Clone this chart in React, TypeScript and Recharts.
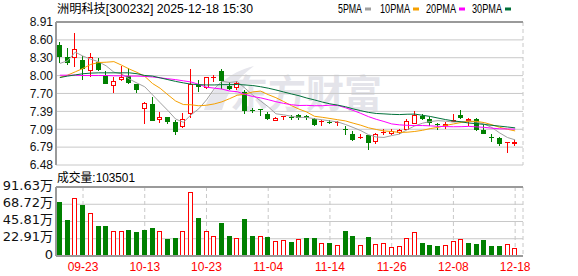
import React from 'react';
import {
  ComposedChart,
  Bar,
  Line,
  XAxis,
  YAxis,
  CartesianGrid,
  ReferenceLine,
} from 'recharts';

const dates = [
  '09-18', '09-19', '09-22', '09-23', '09-24', '09-25', '09-26', '09-29', '09-30', '10-09',
  '10-10', '10-13', '10-14', '10-15', '10-16', '10-17', '10-20', '10-21', '10-22', '10-23',
  '10-24', '10-27', '10-28', '10-29', '10-30', '10-31', '11-03', '11-04', '11-05', '11-06',
  '11-07', '11-10', '11-11', '11-12', '11-13', '11-14', '11-17', '11-18', '11-19', '11-20',
  '11-21', '11-24', '11-25', '11-26', '11-27', '11-28', '12-01', '12-02', '12-03', '12-04',
  '12-05', '12-08', '12-09', '12-10', '12-11', '12-12', '12-15', '12-16', '12-17', '12-18',
];

const opens = [
  8.515, 8.305, 8.29, 8.27, 8.08, 8.225, 8.015, 7.825, 7.925, 7.99,
  7.853, 7.435, 7.524, 7.254, 7.298, 7.208, 7.128, 7.355, 7.836, 7.796,
  7.955, 8.073, 7.82, 7.796, 7.72, 7.41, 7.425, 7.345, 7.236, 7.305,
  7.3, 7.327, 7.32, 7.259, 7.213, 7.21, 7.19, 7.1, 7.016, 6.955,
  6.987, 6.874, 7.03, 7.004, 7.032, 7.083, 7.185, 7.32, 7.259, 7.185,
  7.14, 7.214, 7.327, 7.23, 7.27, 7.083, 6.962, 6.942, 6.86, 6.835,
];
const highs = [
  8.56, 8.46, 8.72, 8.33, 8.385, 8.3, 8.07, 7.975, 8.163, 8.13,
  7.86, 7.545, 7.637, 7.383, 7.3, 7.24, 7.366, 8.105, 7.92, 7.975,
  8.0, 8.107, 7.893, 7.9, 7.75, 7.45, 7.428, 7.385, 7.3, 7.318,
  7.33, 7.355, 7.325, 7.287, 7.253, 7.253, 7.225, 7.14, 7.06, 7.016,
  6.99, 7.03, 7.1, 7.1, 7.1, 7.259, 7.4, 7.344, 7.3, 7.2,
  7.214, 7.344, 7.423, 7.287, 7.287, 7.157, 7.016, 6.96, 6.874, 6.9,
];
const lows = [
  8.204, 8.18, 8.147, 7.93, 7.98, 8.08, 7.85, 7.705, 7.9, 7.855,
  7.705, 7.186, 7.228, 7.196, 7.174, 6.987, 7.118, 7.28, 7.72, 7.763,
  7.892, 7.763, 7.757, 7.76, 7.344, 7.37, 7.321, 7.25, 7.225, 7.24,
  7.24, 7.253, 7.24, 7.14, 7.145, 7.17, 7.145, 6.99, 6.886, 6.92,
  6.733, 6.835, 6.987, 6.99, 7.016, 7.072, 7.174, 7.242, 7.14, 7.072,
  7.1, 7.214, 7.259, 7.14, 7.055, 7.004, 6.874, 6.8, 6.69, 6.8,
];
const closes = [
  8.305, 8.215, 8.441, 8.11, 8.316, 8.09, 7.86, 7.904, 7.966, 7.88,
  7.751, 7.542, 7.23, 7.293, 7.214, 7.035, 7.265, 7.864, 7.8, 7.966,
  7.972, 7.904, 7.768, 7.876, 7.4, 7.395, 7.415, 7.27, 7.28, 7.315,
  7.282, 7.287, 7.28, 7.157, 7.23, 7.2, 7.205, 7.07, 6.9, 6.96,
  6.857, 7.004, 7.035, 7.055, 7.083, 7.23, 7.327, 7.265, 7.197, 7.157,
  7.185, 7.253, 7.287, 7.259, 7.072, 7.016, 6.955, 6.835, 6.87, 6.874,
];

// volume in 万 (10k)
const volumes = [
  71.5, 47.8, 77.6, 67.5, 56.6, 40.0, 40.0, 33.0, 33.0, 34.7,
  32.1, 34.7, 37.3, 33.0, 22.9, 24.2, 33.0, 85.5, 50.5, 33.0,
  26.4, 43.9, 26.8, 23.8, 49.2, 26.8, 26.8, 25.5, 19.8, 21.1,
  19.0, 22.5, 24.2, 24.2, 17.2, 17.6, 14.6, 33.4, 26.8, 14.6,
  25.5, 15.9, 17.2, 11.9, 13.3, 23.8, 31.6, 17.6, 15.0, 13.7,
  14.6, 19.8, 22.5, 17.6, 16.3, 21.1, 13.7, 13.7, 15.9, 10.35,
];

const ma5 = [
  8.204, 8.249, 8.396, 8.328, 8.277, 8.234, 8.163, 8.056, 8.027, 7.94,
  7.872, 7.809, 7.674, 7.539, 7.406, 7.263, 7.207, 7.334, 7.436, 7.586,
  7.773, 7.901, 7.882, 7.897, 7.784, 7.669, 7.57, 7.47, 7.351, 7.334,
  7.31, 7.29, 7.29, 7.267, 7.25, 7.231, 7.214, 7.171, 7.12, 7.066,
  6.997, 6.958, 6.951, 6.982, 7.007, 7.081, 7.146, 7.192, 7.22, 7.235,
  7.226, 7.211, 7.216, 7.228, 7.211, 7.177, 7.118, 7.027, 6.95, 6.91,
];
const ma10 = [
  7.966, 8.006, 8.062, 8.12, 8.187, 8.22, 8.225, 8.235, 8.175, 8.109,
  8.053, 7.986, 7.865, 7.783, 7.673, 7.568, 7.508, 7.504, 7.487, 7.496,
  7.518, 7.554, 7.608, 7.666, 7.685, 7.721, 7.736, 7.676, 7.624, 7.559,
  7.49, 7.43, 7.381, 7.309, 7.292, 7.272, 7.251, 7.231, 7.193, 7.158,
  7.114, 7.086, 7.061, 7.051, 7.036, 7.039, 7.052, 7.072, 7.101, 7.121,
  7.154, 7.179, 7.204, 7.224, 7.223, 7.202, 7.165, 7.122, 7.089, 7.061,
];
const ma20 = [
  8.005, 8.005, 8.005, 8.0, 8.0, 8.0, 8.0, 7.995, 7.995, 7.99,
  7.99, 7.985, 7.975, 7.96, 7.945, 7.93, 7.91, 7.89, 7.85, 7.802,
  7.786, 7.77, 7.737, 7.725, 7.679, 7.644, 7.622, 7.59, 7.556, 7.528,
  7.505, 7.492, 7.494, 7.488, 7.488, 7.497, 7.493, 7.454, 7.409, 7.358,
  7.303, 7.258, 7.221, 7.18, 7.164, 7.156, 7.152, 7.152, 7.147, 7.139,
  7.134, 7.132, 7.133, 7.138, 7.13, 7.121, 7.108, 7.097, 7.095, 7.091,
];
const ma30 = [
  7.966, 7.99, 8.01, 8.03, 8.04, 8.045, 8.045, 8.045, 8.045, 8.045,
  8.03, 8.0, 7.99, 7.96, 7.93, 7.9, 7.875, 7.853, 7.845, 7.84,
  7.84, 7.845, 7.845, 7.848, 7.84, 7.83, 7.81, 7.785, 7.755, 7.721,
  7.688, 7.657, 7.618, 7.586, 7.55, 7.52, 7.498, 7.471, 7.435, 7.404,
  7.375, 7.357, 7.35, 7.342, 7.338, 7.344, 7.346, 7.326, 7.306, 7.279,
  7.253, 7.231, 7.215, 7.195, 7.184, 7.171, 7.156, 7.142, 7.128, 7.113,
];

const priceTicks = [6.484, 6.787, 7.089, 7.392, 7.696, 7.998, 8.301, 8.603, 8.906];
const volTicks = [0, 22.91, 45.81, 68.72, 91.63];
const labelDates = ['09-23', '10-13', '10-23', '11-04', '11-14', '11-26', '12-08', '12-18'];

const maSeries = [
  { key: 'ma5', name: '5PMA', color: '#a0a0a0' },
  { key: 'ma10', name: '10PMA', color: '#f5a000' },
  { key: 'ma20', name: '20PMA', color: '#ff00ff' },
  { key: 'ma30', name: '30PMA', color: '#00703a' },
];

const RED = '#ff0000';
const GREEN = '#008000';
const BORDER = '#9a9a9a';
const GRID = '#c8c8c8';

const data = dates.map((date, i) => ({
  date,
  open: opens[i],
  high: highs[i],
  low: lows[i],
  close: closes[i],
  range: [lows[i], highs[i]],
  vol: volumes[i],
  volUp: i === 0 ? closes[i] >= opens[i] : closes[i] >= closes[i - 1],
  ma5: ma5[i],
  ma10: ma10[i],
  ma20: ma20[i],
  ma30: ma30[i],
}));

function Candle(props: any) {
  const { x, y, width, height, payload } = props;
  if (x == null || !payload) return null;
  const { open, close, high, low } = payload;
  const top = Math.min(y, y + height);
  const ppu = Math.abs(height) / (high - low || 1);
  const py = (v: number) => top + (high - v) * ppu;
  const c = Math.floor(x + width / 2);
  const rise = close > open;
  const color = rise ? RED : GREEN;
  const hi = Math.round(py(high));
  const lo = Math.round(py(low));
  const bt = Math.round(py(Math.max(open, close)));
  const bb = Math.round(py(Math.min(open, close)));
  if (bb - bt < 2) {
    return (
      <g shapeRendering="crispEdges">
        <line x1={c + 0.5} x2={c + 0.5} y1={hi} y2={lo} stroke={color} />
        <line x1={c - 2} x2={c + 3} y1={bt + 0.5} y2={bt + 0.5} stroke={color} />
      </g>
    );
  }
  return (
    <g shapeRendering="crispEdges">
      <line x1={c + 0.5} x2={c + 0.5} y1={hi} y2={bt} stroke={color} />
      <line x1={c + 0.5} x2={c + 0.5} y1={bb} y2={lo} stroke={color} />
      {rise ? (
        <rect x={c - 1.5} y={bt + 0.5} width={4} height={bb - bt - 1} fill="#fff" stroke={color} />
      ) : (
        <rect x={c - 2} y={bt} width={5} height={bb - bt} fill={color} />
      )}
    </g>
  );
}

function VolBar(props: any) {
  const { x, y, width, height, payload } = props;
  if (x == null || !payload) return null;
  const c = Math.floor(x + width / 2);
  const t = Math.round(Math.min(y, y + height));
  const b = Math.round(Math.max(y, y + height));
  if (payload.volUp) {
    return (
      <rect x={c - 1.5} y={t + 0.5} width={4} height={b - t - 1} fill="#fff" stroke={RED} shapeRendering="crispEdges" />
    );
  }
  return <rect x={c - 2} y={t} width={5} height={b - t} fill={GREEN} shapeRendering="crispEdges" />;
}

function PriceTick(props: any) {
  const { x, y, payload } = props;
  return (
    <text x={x} y={y} dy="0.36em" textAnchor="end" fontSize={12} fontFamily="Liberation Sans, Arial" fill="#111">
      {Number(payload.value).toFixed(2)}
    </text>
  );
}

function VolTick(props: any) {
  const { x, y, payload } = props;
  const v = Number(payload.value);
  return (
    <text x={x} y={y} dy={2.5} textAnchor="end" fontSize={13} fontFamily="DejaVu Sans, 'Noto Sans CJK SC'" fill="#111">
      {v === 0 ? '0' : `${v.toFixed(2)}万`}
    </text>
  );
}

function DateTick(props: any) {
  const { x, y, payload } = props;
  return (
    <text x={x} y={y} dy="0.71em" textAnchor="middle" fontSize={12} fontFamily="Liberation Sans, Arial" fill={RED}>
      {payload.value}
    </text>
  );
}

const legendX = [338, 380, 426, 472];

export default function App() {
  return (
    <div style={{ position: 'absolute', left: 0, top: 0, width: 578, height: 276, background: '#fff', overflow: 'hidden' }}>
      {/* watermark */}
      <svg width={578} height={276} style={{ position: 'absolute', left: 0, top: 0 }}>
        <path d="M204 110 C 211 88, 229 72, 254 66 C 237 78, 227 93, 222 110 Z" fill="#e6e6ec" />
        <text x={230} y={107} fontSize={38} fontWeight={700} fontFamily="'Noto Sans CJK SC'" fill="#e4e4ea">
          东方财富
        </text>
      </svg>

      <div style={{ position: 'absolute', left: 0, top: 0 }}>
        <ComposedChart width={578} height={180} data={data} margin={{ top: 22, right: 55, bottom: 15, left: 0 }}>
          <CartesianGrid vertical={false} stroke={GRID} />
          <CartesianGrid horizontal={false} stroke={GRID} strokeDasharray="4 3" />
          <XAxis
            dataKey="date"
            ticks={labelDates}
            interval={0}
            height={0}
            tick={false}
            tickLine={false}
            axisLine={{ stroke: BORDER, strokeWidth: 2 }}
            padding={{ left: 0, right: 4 }}
          />
          <YAxis
            domain={[priceTicks[0], priceTicks[priceTicks.length - 1]]}
            ticks={priceTicks}
            interval={0}
            allowDataOverflow
            width={56}
            tickSize={0}
            tickMargin={3}
            tickLine={false}
            axisLine={{ stroke: BORDER, strokeWidth: 2 }}
            tick={<PriceTick />}
          />
          <YAxis yAxisId="r" orientation="right" width={0} domain={[0, 1]} tick={false} tickLine={false} axisLine={{ stroke: BORDER, strokeWidth: 2 }} />
          <ReferenceLine y={priceTicks[priceTicks.length - 1]} stroke={BORDER} strokeWidth={2} />
          <Bar dataKey="range" barSize={5} shape={<Candle />} isAnimationActive={false} />
          {maSeries.map((s) => (
            <Line
              key={s.key}
              type="linear"
              dataKey={s.key}
              stroke={s.color}
              strokeWidth={1}
              dot={false}
              activeDot={false}
              isAnimationActive={false}
            />
          ))}
        </ComposedChart>
      </div>

      <div style={{ position: 'absolute', left: 0, top: 170 }}>
        <ComposedChart width={578} height={106} data={data} margin={{ top: 17, right: 55, bottom: 0, left: 0 }}>
          <CartesianGrid vertical={false} stroke={GRID} />
          <CartesianGrid horizontal={false} stroke={GRID} strokeDasharray="4 3" />
          <XAxis
            dataKey="date"
            ticks={labelDates}
            interval={0}
            height={20}
            tickSize={0}
            tickMargin={6}
            tickLine={false}
            axisLine={{ stroke: BORDER, strokeWidth: 2 }}
            tick={<DateTick />}
            padding={{ left: 0, right: 4 }}
          />
          <YAxis
            domain={[0, volTicks[volTicks.length - 1]]}
            ticks={volTicks}
            interval={0}
            allowDataOverflow
            width={56}
            tickSize={0}
            tickMargin={3}
            tickLine={false}
            axisLine={{ stroke: BORDER, strokeWidth: 2 }}
            tick={<VolTick />}
          />
          <YAxis yAxisId="r" orientation="right" width={0} domain={[0, 1]} tick={false} tickLine={false} axisLine={{ stroke: BORDER, strokeWidth: 2 }} />
          <ReferenceLine y={volTicks[volTicks.length - 1]} stroke={BORDER} strokeWidth={2} />
          <Bar dataKey="vol" barSize={5} shape={<VolBar />} isAnimationActive={false} />
        </ComposedChart>
      </div>

      {/* title, legend, volume caption */}
      <svg width={578} height={276} style={{ position: 'absolute', left: 0, top: 0, pointerEvents: 'none' }}>
        <text x={57} y={13} fontSize={12} fontFamily="'Liberation Sans', 'Noto Sans CJK SC'" fill="#000" textLength={196} lengthAdjust="spacingAndGlyphs">
          洲明科技[300232] 2025-12-18 15:30
        </text>
        {maSeries.map((s, i) => {
          const tw = s.name.length === 4 ? 24 : 30;
          return (
            <g key={s.key}>
              <text x={legendX[i]} y={12.5} fontSize={12} fontFamily="'Liberation Sans', Arial" fill="#000" textLength={tw} lengthAdjust="spacingAndGlyphs">
                {s.name}
              </text>
              <rect x={legendX[i] + tw + 3} y={7.5} width={6} height={3} fill={s.color} />
            </g>
          );
        })}
        <text x={57} y={182} fontSize={12} fontFamily="'Liberation Sans', 'Noto Sans CJK SC'" fill="#000" textLength={78} lengthAdjust="spacingAndGlyphs">
          成交量:103501
        </text>
      </svg>
    </div>
  );
}
